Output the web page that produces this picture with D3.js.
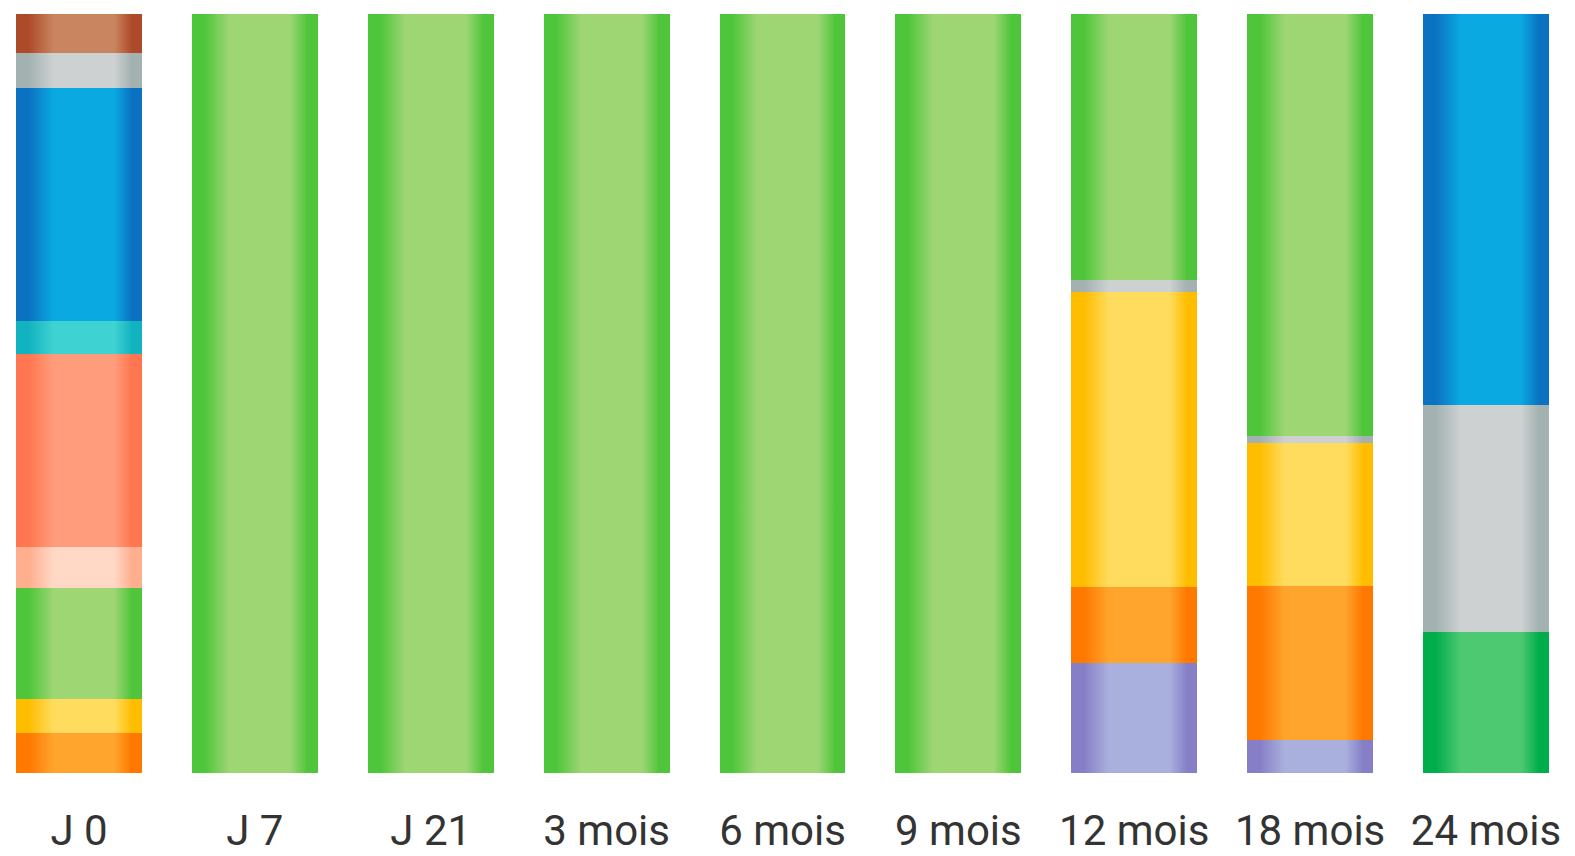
<!DOCTYPE html>
<html>
<head>
<meta charset="utf-8">
<script src="https://cdn.jsdelivr.net/npm/d3@7/dist/d3.min.js"></script>
<style>
  html, body { margin: 0; padding: 0; background: #ffffff; }
  svg { display: block; }
</style>
</head>
<body>
<svg id="chart" width="1575" height="856"></svg>
<script>
// ---- Data (percent of each bar, listed bottom to top) ----
const categories = ["J 0", "J 7", "J 21", "3 mois", "6 mois", "9 mois", "12 mois", "18 mois", "24 mois"];

const j0Keys     = ["orange", "jaune", "vert", "peche", "saumon", "turquoise", "bleu", "gris", "brun"];
const j0Values   = [5.3, 4.5, 14.6, 5.4, 25.4, 4.3, 30.8, 4.6, 5.1];

const greenKeys   = ["vert"];
const greenValues = [100];

const m12Keys    = ["violet", "orange", "jaune", "gris", "vert"];
const m12Values  = [14.5, 10.0, 38.9, 1.6, 35.0];

const m18Keys    = ["violet", "orange", "jaune", "gris", "vert"];
const m18Values  = [4.3, 20.4, 18.8, 0.9, 55.6];

const m24Keys    = ["vertFonce", "gris", "bleu"];
const m24Values  = [18.6, 29.9, 51.5];

const barKeys   = [j0Keys, greenKeys, greenKeys, greenKeys, greenKeys, greenKeys, m12Keys, m18Keys, m24Keys];
const barValues = [j0Values, greenValues, greenValues, greenValues, greenValues, greenValues, m12Values, m18Values, m24Values];

// colour per key: [edge, centre]
const palette = {
  brun:      ["#ad4a2a", "#c98560"],
  gris:      ["#a3b1b1", "#cdd1d1"],
  bleu:      ["#0b72c2", "#0aa9e1"],
  turquoise: ["#12b3c0", "#3fd2d2"],
  saumon:    ["#ff7650", "#ff9c7c"],
  peche:     ["#ffae8e", "#ffd9c6"],
  vert:      ["#4ec53a", "#9ed674"],
  jaune:     ["#ffbd00", "#ffdc5e"],
  orange:    ["#ff7800", "#ffa42c"],
  violet:    ["#867ec6", "#aab0de"],
  vertFonce: ["#00ad4b", "#4cc971"]
};

// ---- Layout ----
const svg = d3.select("#chart");
const x = d3.scaleBand()
  .domain(categories)
  .range([16, 1549])
  .paddingInner(0.2837)
  .paddingOuter(0);
const y = d3.scaleLinear().domain([0, 100]).range([773, 14]);

// gradients
const defs = svg.append("defs");
Object.entries(palette).forEach(([k, [edge, mid]]) => {
  const g = defs.append("linearGradient")
    .attr("id", "grad-" + k)
    .attr("x1", "0%").attr("x2", "100%").attr("y1", "0%").attr("y2", "0%");
  const stops = [
    [0, edge], [0.1, edge], [0.3, mid], [0.5, mid], [0.78, mid], [0.92, edge], [1, edge]
  ];
  stops.forEach(([o, c]) => g.append("stop").attr("offset", o).attr("stop-color", c));
});

// build segments
const segments = [];
categories.forEach((cat, i) => {
  let acc = 0;
  barKeys[i].forEach((k, j) => {
    const v = barValues[i][j];
    segments.push({ cat, key: k, y0: acc, y1: acc + v });
    acc += v;
  });
});

svg.append("g")
  .selectAll("rect")
  .data(segments)
  .join("rect")
  .attr("x", d => x(d.cat))
  .attr("width", x.bandwidth())
  .attr("y", d => y(d.y1))
  .attr("height", d => y(d.y0) - y(d.y1))
  .attr("fill", d => "url(#grad-" + d.key + ")")
  .attr("shape-rendering", "crispEdges");

// category axis
const axis = svg.append("g")
  .attr("transform", "translate(0,773)")
  .call(d3.axisBottom(x).tickSize(0).tickPadding(0));
axis.select(".domain").remove();
axis.selectAll("text")
  .attr("y", 0)
  .attr("dy", 0)
  .attr("transform", "translate(0,72)")
  .attr("font-family", "Roboto, 'DejaVu Sans Condensed', sans-serif")
  .attr("font-size", 42)
  .attr("fill", "#333333");
</script>
</body>
</html>
